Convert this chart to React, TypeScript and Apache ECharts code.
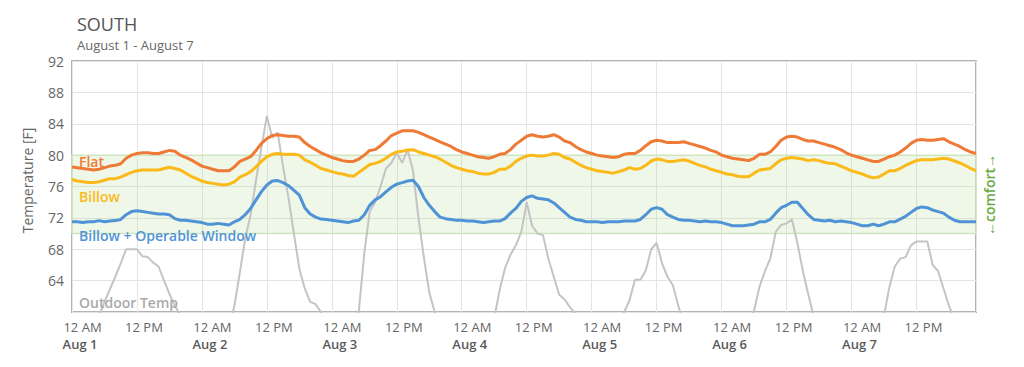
import React, { useEffect, useRef } from "react";
import * as echarts from "echarts";

// Hourly values, Aug 1 12 AM (hour 0) through Aug 7 11 PM (hour 167)
const flat = [
  78.5, 78.4, 78.3, 78.2, 78.1, 78.2, 78.4, 78.6, 78.7, 78.9, 79.6, 80.0,
  80.2, 80.3, 80.3, 80.2, 80.2, 80.4, 80.6, 80.5, 80.0, 79.7, 79.4, 79.0,
  78.6, 78.4, 78.2, 78.0, 78.0, 78.0, 78.5, 79.2, 79.5, 79.8, 80.6, 81.5,
  82.1, 82.5, 82.6, 82.5, 82.4, 82.4, 82.3, 81.6, 81.1, 80.7, 80.3, 80.0,
  79.7, 79.5, 79.3, 79.2, 79.2, 79.5, 80.0, 80.6, 80.7, 81.2, 81.8, 82.5,
  82.8, 83.1, 83.1, 83.1, 82.9, 82.6, 82.3, 82.0, 81.7, 81.4, 81.1, 80.7,
  80.4, 80.2, 80.0, 79.8, 79.7, 79.6, 79.8, 80.1, 80.2, 80.7, 81.4, 81.9,
  82.4, 82.6, 82.4, 82.3, 82.4, 82.6, 82.3, 81.8, 81.6, 81.1, 80.7, 80.4,
  80.2, 80.0, 79.9, 79.8, 79.7, 79.8, 80.1, 80.2, 80.2, 80.6, 81.2, 81.7,
  81.9, 81.8, 81.6, 81.6, 81.6, 81.7, 81.5, 81.3, 81.1, 80.9, 80.6, 80.4,
  80.0, 79.8, 79.6, 79.5, 79.4, 79.3, 79.6, 80.1, 80.1, 80.4, 81.1, 81.9,
  82.3, 82.4, 82.3, 82.0, 81.8, 81.8, 81.6, 81.4, 81.2, 81.0, 80.7, 80.3,
  80.0, 79.8, 79.6, 79.4, 79.2, 79.2, 79.5, 79.8, 80.0, 80.4, 80.9, 81.5,
  81.9, 82.0, 81.9, 81.9, 82.0, 82.1, 81.7, 81.4, 81.1, 80.7, 80.4, 80.2,
];

const billow = [
  76.9, 76.7, 76.6, 76.5, 76.5, 76.6, 76.8, 77.0, 77.0, 77.2, 77.5, 77.8,
  78.0, 78.1, 78.1, 78.1, 78.1, 78.3, 78.45, 78.3, 78.1, 77.7, 77.3, 77.0,
  76.7, 76.5, 76.4, 76.3, 76.2, 76.3, 76.6, 77.2, 77.5, 77.9, 78.5, 79.2,
  79.8, 80.1, 80.2, 80.1, 80.1, 80.1, 80.0, 79.4, 79.1, 78.7, 78.3, 78.1,
  77.9, 77.7, 77.6, 77.4, 77.3, 77.8, 78.3, 78.8, 78.95, 79.2, 79.6, 80.1,
  80.4, 80.5, 80.65, 80.7, 80.4, 80.2, 80.0, 79.8, 79.5, 79.1, 78.7, 78.4,
  78.2, 78.0, 77.9, 77.7, 77.6, 77.6, 77.8, 78.2, 78.2, 78.6, 79.2, 79.6,
  79.9, 80.0, 79.9, 79.9, 80.0, 80.2, 80.1, 79.7, 79.5, 79.1, 78.7, 78.4,
  78.2, 78.0, 77.9, 77.8, 77.7, 77.9, 78.1, 78.4, 78.2, 78.3, 78.7, 79.25,
  79.5, 79.4, 79.2, 79.2, 79.3, 79.4, 79.25, 78.95, 78.7, 78.5, 78.2, 78.0,
  77.8, 77.6, 77.5, 77.3, 77.25, 77.25, 77.7, 78.1, 78.2, 78.3, 78.9, 79.4,
  79.6, 79.7, 79.6, 79.5, 79.3, 79.4, 79.3, 79.1, 78.95, 78.9, 78.6, 78.3,
  78.0, 77.8, 77.6, 77.3, 77.1, 77.2, 77.6, 78.0, 78.0, 78.3, 78.7, 79.0,
  79.3, 79.4, 79.4, 79.4, 79.5, 79.6, 79.5, 79.25, 79.0, 78.7, 78.3, 78.0,
];

const billowWindow = [
  71.5, 71.5, 71.4, 71.5, 71.5, 71.65, 71.5, 71.6, 71.65, 71.8, 72.4, 72.8,
  72.9, 72.8, 72.7, 72.6, 72.5, 72.5, 72.4, 71.9, 71.7, 71.7, 71.6, 71.5,
  71.4, 71.2, 71.2, 71.3, 71.2, 71.1, 71.5, 71.8, 72.4, 73.2, 74.3, 75.35,
  76.2, 76.7, 76.75, 76.5, 76.1, 75.5, 74.9, 73.3, 72.5, 72.1, 71.85, 71.8,
  71.7, 71.6, 71.5, 71.4, 71.6, 71.7, 72.4, 73.6, 74.3, 74.7, 75.3, 75.9,
  76.3, 76.5, 76.7, 76.8, 76.0, 74.6, 73.6, 72.8, 72.1, 71.9, 71.8, 71.7,
  71.7, 71.6, 71.6, 71.5, 71.4, 71.5, 71.6, 71.6, 71.9, 72.6, 73.2, 74.1,
  74.6, 74.8, 74.5, 74.4, 74.3, 73.9, 73.3, 72.7, 72.1, 71.8, 71.7, 71.5,
  71.5, 71.5, 71.4, 71.5, 71.5, 71.5, 71.6, 71.6, 71.6, 71.8, 72.4, 73.1,
  73.3, 73.1, 72.4, 72.1, 71.8, 71.7, 71.7, 71.6, 71.5, 71.6, 71.5, 71.5,
  71.4, 71.2, 71.0, 71.0, 71.0, 71.1, 71.2, 71.5, 71.5, 71.8, 72.6, 73.3,
  73.6, 74.0, 74.0, 73.2, 72.4, 71.8, 71.7, 71.6, 71.7, 71.5, 71.6, 71.5,
  71.4, 71.2, 71.0, 71.0, 71.2, 71.0, 71.2, 71.5, 71.5, 71.85, 72.2, 72.7,
  73.2, 73.4, 73.3, 73.0, 72.8, 72.6, 72.1, 71.7, 71.5, 71.5, 71.5, 71.5,
];

const outdoor = [
  57, 56.5, 56, 56, 57, 59.5, 61.3, 62.9, 64.5, 66.2, 68, 68,
  68, 67.1, 67, 66.3, 65.8, 64, 62.3, 60.8, 59.6, 58.5, 58, 57.5,
  57, 56.5, 56, 56, 56.5, 58, 60.8, 65, 69.4, 72.4, 76.8, 81,
  85, 82.2, 82.9, 78.5, 74.5, 70, 65.5, 63, 61.3, 61, 60, 58.5,
  57.5, 57, 56.5, 57, 58, 60.2, 67.5, 72.8, 74, 76, 78.3, 79,
  80.3, 79, 80.7, 78, 72, 67, 62.5, 60, 58, 57, 56.5, 56,
  56, 55.5, 55.5, 56, 56.5, 57.5, 59.2, 62.8, 65.6, 67.3, 68.5, 70.2,
  74, 71, 70, 69.8, 66.8, 64.5, 62.2, 61.6, 60.6, 59.8, 58.5, 58,
  57.5, 57, 56.5, 56.5, 57, 58.5, 60, 61.5, 64.1, 64.1, 65.3, 68,
  68.8, 66.2, 64.5, 63.4, 60.8, 58.5, 57.5, 57, 56.5, 56, 56, 56,
  56, 56.5, 57, 57.5, 58, 59, 60.2, 63.2, 65.2, 66.8, 70.2, 71.1,
  71.3, 71.8, 68.8, 65.3, 62.3, 59.5, 58, 57, 56.5, 56, 56, 56,
  56, 56.5, 57, 57.5, 58, 58.5, 59.5, 63.2, 65.8, 66.8, 67, 68.5,
  69, 69, 69, 66, 65.2, 63, 60.8, 59, 58, 57.5, 57, 57,
];

const dayLabels = ["Aug 1", "Aug 2", "Aug 3", "Aug 4", "Aug 5", "Aug 6", "Aug 7"];
const halfDayLabels = ["12 AM", "12 PM"];
const comfortRange = [70, 80];

const FONT = "'Open Sans', 'Noto Sans', sans-serif";
const C_FLAT = "#ee7a35";
const C_BILLOW = "#fbb91a";
const C_BOW = "#4f93d6";
const C_OUT = "#c4c4c4";
const C_GREEN = "#68a93a";

const toPairs = (arr: number[]) => arr.map((v, i) => [i, v]);

export default function App() {
  const ref = useRef<HTMLDivElement>(null);

  useEffect(() => {
    if (!ref.current) return;
    const chart = echarts.init(ref.current, undefined, { renderer: "svg" });
    chart.setOption({
      animation: false,
      backgroundColor: "#ffffff",
      title: {
        text: "SOUTH",
        subtext: "August 1 - August 7",
        left: 72,
        top: 10,
        itemGap: 5,
        textStyle: { fontFamily: FONT, fontSize: 18, fontWeight: "normal", color: "#555555" },
        subtextStyle: { fontFamily: FONT, fontSize: 13, color: "#666666" },
      },
      grid: {
        left: 72,
        right: 48,
        top: 61,
        bottom: 55,
        show: true,
        borderColor: "#b3b3b3",
        borderWidth: 2,
        containLabel: false,
      },
      xAxis: {
        type: "value",
        min: 0,
        max: flat.length - 1,
        interval: 12,
        axisLine: { show: false },
        axisTick: { show: false },
        splitLine: { show: true, lineStyle: { color: "#e4e4e4", width: 1 } },
        axisLabel: {
          margin: 6,
          fontFamily: FONT,
          formatter: (v: number) => {
            if (v % 12 !== 0) return "";
            if (v % 24 === 0) {
              return `{am|${halfDayLabels[0]}}\n{day|${dayLabels[v / 24]}}`;
            }
            return `{pm|${halfDayLabels[1]}}`;
          },
          rich: {
            am: { fontFamily: FONT, fontSize: 13, color: "#666666", lineHeight: 17, padding: [0, 0, 0, 21] },
            pm: { fontFamily: FONT, fontSize: 13, color: "#666666", lineHeight: 17, padding: [0, 0, 0, 14] },
            day: { fontFamily: FONT, fontSize: 13, fontWeight: 600, color: "#5a5a5a", lineHeight: 17, padding: [0, 0, 0, 16] },
          },
        },
      },
      yAxis: {
        type: "value",
        min: 60,
        max: 92,
        interval: 4,
        name: "Temperature [F]",
        nameLocation: "middle",
        nameGap: 38,
        nameTextStyle: { fontFamily: FONT, fontSize: 14, color: "#666666", padding: [0, 0, 0, 12] },
        axisLine: { show: false },
        axisTick: { show: false },
        splitLine: { show: true, lineStyle: { color: "#e4e4e4", width: 1 } },
        axisLabel: {
          showMinLabel: false,
          margin: 8,
          fontFamily: FONT,
          fontSize: 14,
          color: "#666666",
        },
      },
      series: [
        {
          name: "Outdoor Temp",
          type: "line",
          data: toPairs(outdoor),
          showSymbol: false,
          symbol: "none",
          lineStyle: { color: C_OUT, width: 2 },
          z: 1,
          markArea: {
            silent: true,
            itemStyle: {
              color: "rgba(172, 214, 140, 0.2)",
              borderColor: "#cfe5c0",
              borderWidth: 1.5,
            },
            data: [[{ yAxis: comfortRange[0] }, { yAxis: comfortRange[1] }]],
          },
        },
        {
          name: "Billow + Operable Window",
          type: "line",
          data: toPairs(billowWindow),
          symbol: "none",
          lineStyle: { color: C_BOW, width: 3 },
          z: 3,
        },
        {
          name: "Billow",
          type: "line",
          data: toPairs(billow),
          symbol: "none",
          lineStyle: { color: C_BILLOW, width: 3 },
          z: 4,
        },
        {
          name: "Flat",
          type: "line",
          data: toPairs(flat),
          symbol: "none",
          lineStyle: { color: C_FLAT, width: 3 },
          z: 5,
        },
      ],
      graphic: [
        {
          type: "text",
          x: 79,
          y: 161.5,
          z: 10,
          style: { text: "Flat", fill: C_FLAT, font: `600 14px ${FONT}`, verticalAlign: "middle" },
        },
        {
          type: "text",
          x: 79,
          y: 196,
          z: 10,
          style: { text: "Billow", fill: C_BILLOW, font: `600 14px ${FONT}`, verticalAlign: "middle" },
        },
        {
          type: "text",
          x: 79,
          y: 235.5,
          z: 10,
          style: { text: "Billow + Operable Window", fill: C_BOW, font: `600 14px ${FONT}`, verticalAlign: "middle" },
        },
        {
          type: "text",
          x: 79,
          y: 302.5,
          z: 10,
          style: { text: "Outdoor Temp", fill: "#aaaaaa", font: `600 14px ${FONT}`, verticalAlign: "middle" },
        },
        {
          type: "text",
          x: 989,
          y: 195,
          rotation: Math.PI / 2,
          z: 10,
          style: {
            text: "←comfort→",
            fill: C_GREEN,
            font: `600 14px ${FONT}`,
            align: "center",
            verticalAlign: "middle",
          },
        },
      ],
    });
    return () => chart.dispose();
  }, []);

  return (
    <div
      ref={ref}
      style={{ position: "absolute", left: 0, top: 0, width: 1024, height: 367 }}
    />
  );
}
